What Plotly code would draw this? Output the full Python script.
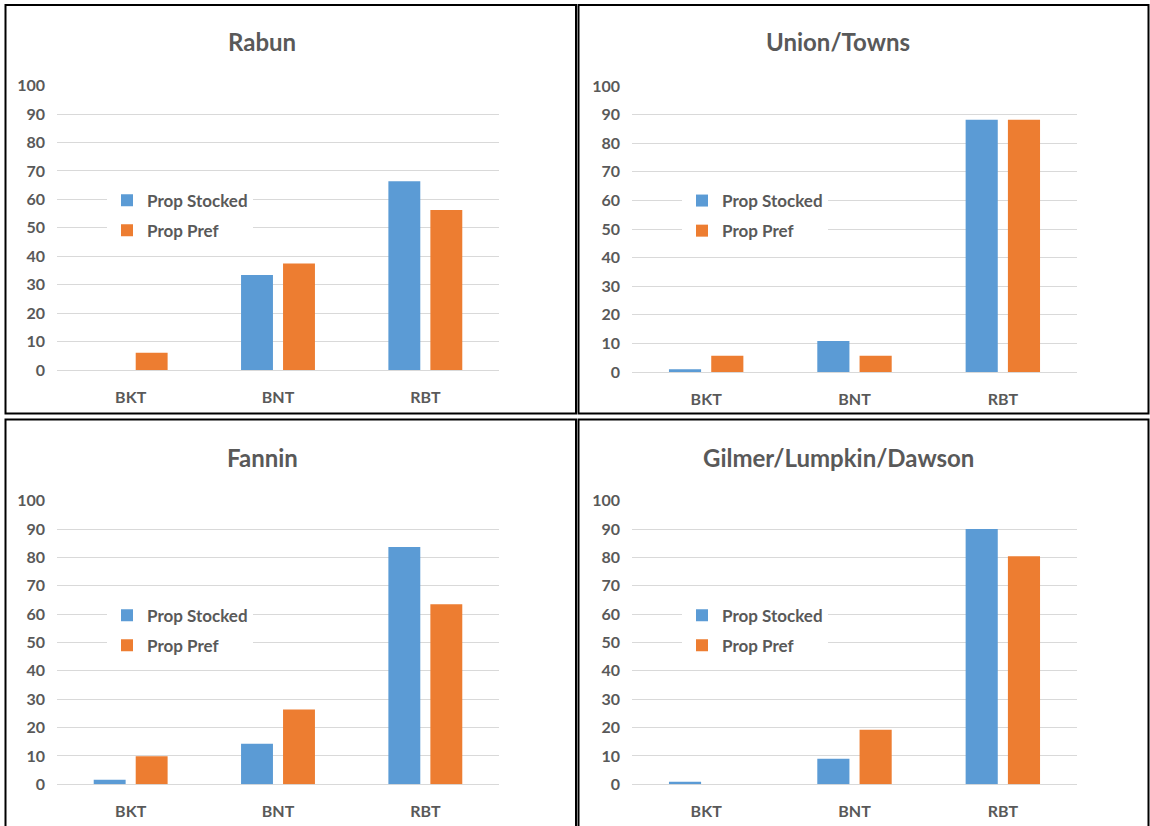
import plotly.graph_objects as go

W, H = 1150, 826

categories = ["BKT", "BNT", "RBT"]
series_names = ["Prop Stocked", "Prop Pref"]
panel_titles = ["Rabun", "Union/Towns", "Fannin", "Gilmer/Lumpkin/Dawson"]

rabun_stocked = [0, 33.4, 66.4]
rabun_pref = [6.1, 37.5, 56.3]
union_stocked = [1.0, 10.8, 88.2]
union_pref = [5.7, 5.7, 88.2]
fannin_stocked = [1.6, 14.3, 83.7]
fannin_pref = [9.9, 26.4, 63.5]
gilmer_stocked = [0.9, 9.0, 90.0]
gilmer_pref = [0, 19.2, 80.4]

y_ticks = [0, 10, 20, 30, 40, 50, 60, 70, 80, 90, 100]

colors = ["#5B9BD5", "#ED7D31"]
text_color = "#595959"
grid_color = "#D9D9D9"
FONT = "Lato"

panels = [
    (rabun_stocked, rabun_pref),
    (union_stocked, union_pref),
    (fannin_stocked, fannin_pref),
    (gilmer_stocked, gilmer_pref),
]

# pixel geometry of each plot area: (x0, x1, ytop, ybottom)
plot_px = [
    (57, 499, 85.7, 370),
    (632, 1077, 86, 372),
    (57, 499, 500.7, 784.3),
    (632, 1077, 500.7, 784.3),
]
# border rectangles (x0, y0, x1, y1) in px
borders_px = [
    (5.5, 5, 576, 413.5),
    (578.5, 5, 1148.5, 413.5),
    (5.5, 419.5, 576, 830),
    (578.5, 419.5, 1148.5, 830),
]
title_px = [(262, 42), (838, 42), (262, 457), (838, 457)]


def px_x(x):
    return x / W


def px_y(y):
    return 1 - y / H


fig = go.Figure()
layout = {}
shapes = []
annotations = []

for i, (stocked, pref) in enumerate(panels):
    n = i + 1
    sx = "" if n == 1 else str(n)
    xa, ya = "x" + sx, "y" + sx
    leg = "legend" + sx
    for j, vals in enumerate([stocked, pref]):
        fig.add_trace(go.Bar(
            x=categories, y=vals, name=series_names[j],
            marker=dict(color=colors[j], line=dict(width=0)),
            xaxis=xa, yaxis=ya, legend=leg, legendgroup=f"g{n}_{j}",
            showlegend=True,
        ))
    x0, x1, yt, yb = plot_px[i]
    layout["xaxis" + sx] = dict(
        domain=[px_x(x0), px_x(x1)], anchor=ya, type="category",
        range=[-0.5, 2.5], showgrid=False, showline=False, ticks="",
        tickfont=dict(family=FONT, size=16, color=text_color, weight="bold"),
        ticklabelstandoff=16, fixedrange=True, automargin=False,
    )
    layout["yaxis" + sx] = dict(
        domain=[px_y(yb), px_y(yt)], anchor=xa, range=[0, 100],
        tickvals=y_ticks, showgrid=True, gridcolor=grid_color, gridwidth=1,
        zeroline=True, zerolinecolor=grid_color, zerolinewidth=1,
        showline=False, ticks="",
        tickfont=dict(family=FONT, size=16, color=text_color, weight="bold"),
        ticklabelstandoff=11, fixedrange=True, automargin=False,
    )
    layout[leg] = dict(
        x=px_x(x0 + 50), y=px_y(yt + 97), xanchor="left", yanchor="top",
        bgcolor="white", borderwidth=0, tracegroupgap=5,
        font=dict(family=FONT, size=17, color=text_color, weight="bold"),
        itemclick=False, itemdoubleclick=False,
    )
    bx0, by0, bx1, by1 = borders_px[i]
    shapes.append(dict(
        type="rect", xref="paper", yref="paper",
        x0=px_x(bx0), x1=px_x(bx1), y0=px_y(by1), y1=px_y(by0),
        line=dict(color="black", width=2), layer="above",
    ))
    tx, ty = title_px[i]
    annotations.append(dict(
        text=panel_titles[i], xref="paper", yref="paper",
        x=px_x(tx), y=px_y(ty), xanchor="center", yanchor="middle",
        showarrow=False,
        font=dict(family=FONT, size=24, color=text_color, weight="bold"),
    ))

fig.update_layout(
    width=W, height=H, autosize=False,
    margin=dict(l=0, r=0, t=0, b=0, pad=0, autoexpand=False),
    paper_bgcolor="white", plot_bgcolor="white",
    barmode="group", bargap=0.43, bargroupgap=0.24,
    shapes=shapes, annotations=annotations,
    **layout,
)

fig.write_html("out.html")
